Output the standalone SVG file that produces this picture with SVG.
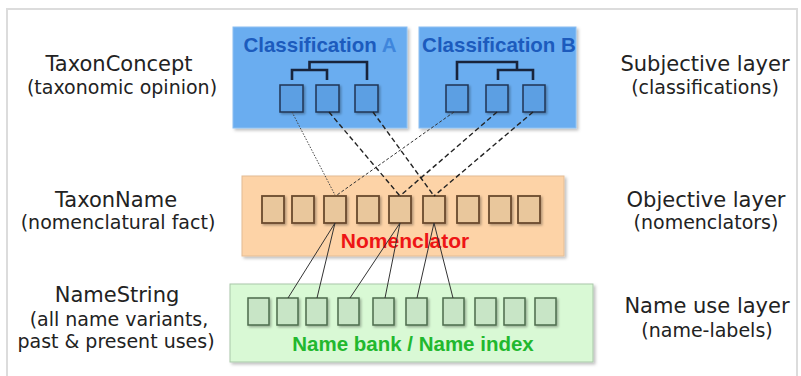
<svg xmlns="http://www.w3.org/2000/svg" width="801" height="376" viewBox="0 0 801 376">
<defs>
<filter id="sh" x="-10%" y="-10%" width="130%" height="140%">
<feDropShadow dx="2" dy="2" stdDeviation="1.5" flood-color="#000" flood-opacity="0.25"/>
</filter>
<filter id="ssh" x="-30%" y="-30%" width="170%" height="170%">
<feDropShadow dx="1.5" dy="1.5" stdDeviation="1" flood-color="#000" flood-opacity="0.3"/>
</filter>
<style>
.lbl{font-family:"DejaVu Sans",Verdana,sans-serif;fill:#222;text-anchor:middle}
.main{font-size:21px}
.sub{font-size:19px}
.ttl{font-family:"Liberation Sans",Arial,sans-serif;font-weight:bold;text-anchor:middle}
.cls{fill:#6aadf0;stroke:#8cc0f2;stroke-width:1;filter:url(#sh)}
.nom{fill:#fdd3a7;stroke:#e3bc94;stroke-width:1;filter:url(#sh)}
.nb{fill:#d9f9d5;stroke:#a9c7a9;stroke-width:1;filter:url(#sh)}
.bs{fill:#5c9fe3;stroke:#1f3555;stroke-width:1.5;filter:url(#ssh)}
.os{fill:#e9c79c;stroke:#6a4a2e;stroke-width:1.8;filter:url(#ssh)}
.gs{fill:#c8e5c6;stroke:#4d6b4d;stroke-width:1.5;filter:url(#ssh)}
.tree{fill:none;stroke:#18243c;stroke-width:2.6}
.dot{stroke:#444;stroke-width:1;stroke-dasharray:1.5 1.5;fill:none}
.fdash{stroke:#333;stroke-width:1;stroke-dasharray:3 2;fill:none}
.dash{stroke:#222;stroke-width:1.4;stroke-dasharray:5 3;fill:none}
.sol{stroke:#333;stroke-width:1;fill:none}
</style>
</defs>
<rect width="801" height="376" fill="#ffffff"/>
<rect x="7" y="9" width="790" height="380" fill="none" stroke="#dcdcdc" stroke-width="2"/>

<g id="label-taxonconcept">
<text class="lbl main" x="119" y="71">TaxonConcept</text>
<text class="lbl sub" x="122" y="94">(taxonomic opinion)</text>
</g>
<g id="label-taxonname">
<text class="lbl main" x="116" y="207">TaxonName</text>
<text class="lbl sub" x="118" y="229">(nomenclatural fact)</text>
</g>
<g id="label-namestring">
<text class="lbl main" x="117" y="302">NameString</text>
<text class="lbl sub" x="119" y="326">(all name variants,</text>
<text class="lbl sub" x="116" y="348">past &amp; present uses)</text>
</g>
<g id="label-subjective">
<text class="lbl main" x="705" y="71">Subjective layer</text>
<text class="lbl sub" x="705" y="94">(classifications)</text>
</g>
<g id="label-objective">
<text class="lbl main" x="706" y="207">Objective layer</text>
<text class="lbl sub" x="706" y="229">(nomenclators)</text>
</g>
<g id="label-nameuse">
<text class="lbl main" x="707" y="313">Name use layer</text>
<text class="lbl sub" x="707" y="337">(name-labels)</text>
</g>

<g id="classification-a">
<rect class="cls" x="233" y="27" width="174" height="101"/>
<text class="ttl" x="320" y="52" font-size="20.5"><tspan fill="#1c5bbd">Classification</tspan><tspan fill="#3f86dc"> A</tspan></text>
<path class="tree" d="M292 80V70H327V80M309.5 70V62H367V80"/>
<g id="a1"><rect class="bs" x="280" y="85" width="23" height="27"/></g>
<g id="a2"><rect class="bs" x="316" y="85" width="23" height="27"/></g>
<g id="a3"><rect class="bs" x="355" y="85" width="23" height="27"/></g>
</g>

<g id="classification-b">
<rect class="cls" x="419" y="27" width="157" height="101"/>
<text class="ttl" x="499" y="52" font-size="20.5" fill="#1c5bbd">Classification B</text>
<path class="tree" d="M457 80V62H517V70M498 80V70H533V80"/>
<g id="b1"><rect class="bs" x="446" y="85" width="22" height="27"/></g>
<g id="b2"><rect class="bs" x="486" y="85" width="22" height="27"/></g>
<g id="b3"><rect class="bs" x="523" y="85" width="22" height="27"/></g>
</g>

<g id="nomenclator">
<rect class="nom" x="242" y="176" width="322" height="80"/>
<g id="n1"><rect class="os" x="262" y="196" width="22" height="27"/></g>
<g id="n2"><rect class="os" x="292" y="196" width="22" height="27"/></g>
<g id="n3"><rect class="os" x="324" y="196" width="22" height="27"/></g>
<g id="n4"><rect class="os" x="357" y="196" width="22" height="27"/></g>
<g id="n5"><rect class="os" x="389" y="196" width="22" height="27"/></g>
<g id="n6"><rect class="os" x="423" y="196" width="22" height="27"/></g>
<g id="n7"><rect class="os" x="457" y="196" width="22" height="27"/></g>
<g id="n8"><rect class="os" x="489" y="196" width="22" height="27"/></g>
<g id="n9"><rect class="os" x="518" y="196" width="22" height="27"/></g>
<text class="ttl" x="405" y="248" font-size="21" fill="#ee1515">Nomenclator</text>
</g>

<g id="name-bank">
<rect class="nb" x="230" y="284" width="363" height="78"/>
<g id="s1"><rect class="gs" x="248" y="298" width="21" height="27"/></g>
<g id="s2"><rect class="gs" x="277" y="298" width="21" height="27"/></g>
<g id="s3"><rect class="gs" x="306" y="298" width="21" height="27"/></g>
<g id="s4"><rect class="gs" x="338" y="298" width="21" height="27"/></g>
<g id="s5"><rect class="gs" x="373" y="298" width="21" height="27"/></g>
<g id="s6"><rect class="gs" x="406" y="298" width="21" height="27"/></g>
<g id="s7"><rect class="gs" x="443" y="298" width="21" height="27"/></g>
<g id="s8"><rect class="gs" x="475" y="298" width="21" height="27"/></g>
<g id="s9"><rect class="gs" x="504" y="298" width="21" height="27"/></g>
<g id="s10"><rect class="gs" x="535" y="298" width="21" height="27"/></g>
<text class="ttl" x="413" y="351" font-size="20.5" fill="#22b82e">Name bank / Name index</text>
</g>

<g id="connectors">
<line class="dot" x1="292" y1="112" x2="335" y2="195"/>
<line class="dash" x1="329" y1="112" x2="400" y2="196"/>
<line class="dash" x1="373" y1="112" x2="434" y2="196"/>
<line class="fdash" x1="454" y1="112" x2="337" y2="195"/>
<line class="dash" x1="497" y1="112" x2="400" y2="196"/>
<line class="dash" x1="533" y1="112" x2="434" y2="196"/>
<line class="sol" x1="335" y1="223" x2="288" y2="298"/>
<line class="sol" x1="335" y1="223" x2="317" y2="298"/>
<line class="sol" x1="400" y1="223" x2="350" y2="298"/>
<line class="sol" x1="400" y1="223" x2="385" y2="298"/>
<line class="sol" x1="434" y1="223" x2="417" y2="298"/>
<line class="sol" x1="434" y1="223" x2="453" y2="298"/>
</g>
</svg>
